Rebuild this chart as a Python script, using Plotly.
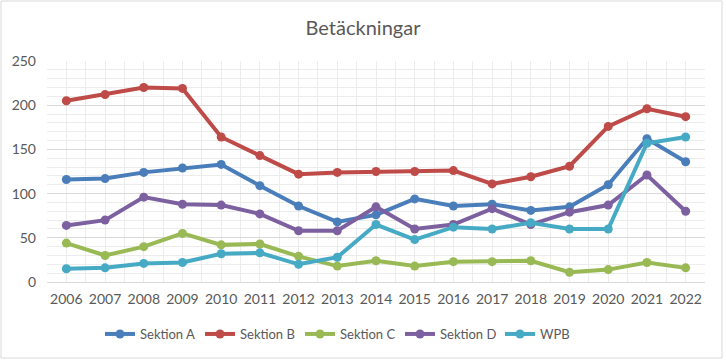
import plotly.graph_objects as go

years = list(range(2006, 2023))
sektion_a = [116, 117, 124, 129, 133, 109, 86, 68, 76, 94, 86, 88, 81, 85, 110, 162, 136]
sektion_b = [205, 212, 220, 219, 164, 143, 122, 124, 125, 125, 126, 111, 119, 131, 176, 196, 187]
sektion_c = [44, 30, 40, 55, 42, 43, 29, 18, 24, 18, 23, 23, 24, 11, 14, 22, 16]
sektion_d = [64, 70, 96, 88, 87, 77, 58, 58, 85, 60, 65, 83, 65, 79, 87, 121, 80]
wpb = [15, 16, 21, 22, 32, 33, 20, 28, 65, 48, 62, 60, 67, 60, 60, 157, 164]

series = [
    ("Sektion A", sektion_a, "#4A7EBB"),
    ("Sektion B", sektion_b, "#BE4B48"),
    ("Sektion C", sektion_c, "#98B954"),
    ("Sektion D", sektion_d, "#7D60A0"),
    ("WPB", wpb, "#46AAC5"),
]

FONT = "Lato"
fig = go.Figure()
for name, vals, color in series:
    fig.add_trace(go.Scatter(
        x=years, y=vals, name=name, mode="lines+markers",
        line=dict(color=color, width=4),
        marker=dict(color=color, size=9),
    ))

fig.update_layout(
    width=726, height=360,
    margin=dict(l=47, r=21, t=61, b=78),
    paper_bgcolor="white", plot_bgcolor="white",
    title=dict(text="Betäckningar", x=0.5, xanchor="center", y=0.922, yanchor="middle",
               font=dict(family=FONT, size=20, color="#595959")),
    font=dict(family=FONT, size=14, color="#595959"),
    showlegend=True,
    legend=dict(orientation="h", xref="container", yref="container",
                x=100 / 726, xanchor="left", y=1 - 334 / 360, yanchor="middle",
                font=dict(family=FONT, size=13, color="#595959"),
                itemwidth=30, entrywidth=55, entrywidthmode="pixels", tracegroupgap=0),
    xaxis=dict(
        range=[2005.5, 2022.5], tickmode="array", tickvals=years,
        ticktext=[str(y) for y in years],
        showgrid=True, gridcolor="#ececec", gridwidth=1,
        minor=dict(tickmode="array", tickvals=[y + 0.5 for y in years[:-1]],
                   showgrid=True, gridcolor="#ececec", gridwidth=1),
        showline=True, linecolor="#d9d9d9", linewidth=1,
        zeroline=False, ticks="", fixedrange=True, ticklabelstandoff=4,
    ),
    yaxis=dict(
        range=[0, 250], dtick=50, tick0=0,
        showgrid=True, gridcolor="#d9d9d9", gridwidth=1,
        minor=dict(dtick=10, showgrid=True, gridcolor="#ececec", gridwidth=1),
        zeroline=False, showline=False, ticks="", ticklabelstandoff=10,
    ),
    shapes=[dict(type="rect", xref="paper", yref="paper",
                 x0=-46 / 658, x1=675 / 658, y0=-76 / 221, y1=(221 + 60) / 221,
                 line=dict(color="#d9d9d9", width=1), layer="below")],
)

fig.write_html("out.html", config={"displayModeBar": False},
               post_script="document.body.style.margin='0';")
